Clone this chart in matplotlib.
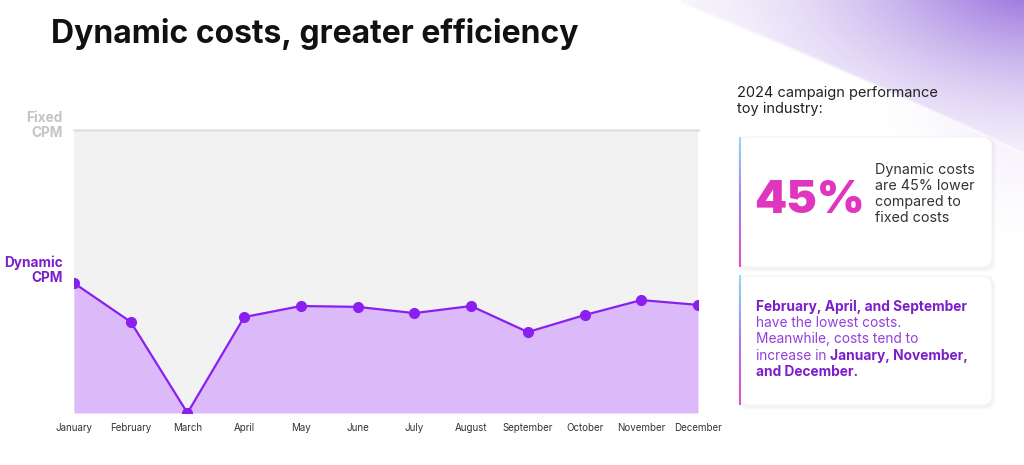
import numpy as np
import matplotlib
matplotlib.use("Agg")
import matplotlib.pyplot as plt
from matplotlib.patches import FancyBboxPatch
from matplotlib.colors import LinearSegmentedColormap

# ---- data ----
months = ["January", "February", "March", "April", "May", "June", "July",
          "August", "September", "October", "November", "December"]
dynamic_cpm = [45.9, 32.2, 0.0, 33.9, 37.8, 37.5, 35.3, 37.8, 28.6, 34.6, 39.9, 38.2]
fixed_cpm = 100
ytick_labels = ["Dynamic\nCPM", "Fixed\nCPM"]
title = "Dynamic costs, greater efficiency"
side_heading = "2024 campaign performance\ntoy industry:"
big_stat = "45%"
stat_text = ["Dynamic costs", "are 45% lower", "compared to", "fixed costs"]

W, H = 1024, 465
fig = plt.figure(figsize=(W / 100, H / 100), dpi=100)
fig.patch.set_facecolor("white")

# background overlay axes (pixel coordinates)
bg = fig.add_axes([0, 0, 1, 1], zorder=0)
bg.set_xlim(0, W)
bg.set_ylim(H, 0)
bg.axis("off")

# purple swoosh top-right
yy, xx = np.mgrid[0:H, 0:W].astype(float)
curve = 5 + (xx - 680) * 0.40 + ((xx - 680) / 330.0) ** 2 * 12
inside = (yy < curve) & (xx > 680)
dist = np.hypot((W + 20 - xx) * 0.8, (yy + 30) * 1.4) / 320.0
alpha = np.clip(1.0 - dist, 0, 1) ** 1.8 * 0.95 + 0.05
alpha = np.where(inside, alpha, 0.0)
edge = np.clip((curve - yy) / 4.0, 0, 1)
alpha = alpha * edge
# faint lavender below the curve near right edge
alpha2 = np.clip(1.0 - np.hypot(W - xx, (yy - 80) * 0.9) / 160.0, 0, 1) ** 1.5 * 0.14
alpha = np.where(inside, alpha, alpha2)
img = np.zeros((H, W, 4))
img[..., 0] = 0.52
img[..., 1] = 0.33
img[..., 2] = 0.84
img[..., 3] = alpha
bg.imshow(img, extent=(0, W, H, 0), zorder=0, interpolation="bilinear")

# cards
def card(x0, y0, x1, y1):
    for i, a in enumerate([0.012, 0.015, 0.02]):
        off = 3 - i
        sh = FancyBboxPatch((x0 - off + 1, y0 - off + 2), (x1 - x0) + 2 * off, (y1 - y0) + 2 * off,
                            boxstyle="round,pad=0,rounding_size=10", fc="black", ec="none",
                            alpha=a, zorder=1)
        bg.add_patch(sh)
    p = FancyBboxPatch((x0, y0), x1 - x0, y1 - y0, boxstyle="round,pad=0,rounding_size=10",
                       fc="white", ec="#f3f3f3", lw=0.6, zorder=2)
    bg.add_patch(p)
    grad = LinearSegmentedColormap.from_list("g", ["#8fdcf7", "#a07ef0", "#e64fc4"])
    gimg = np.linspace(0, 1, 100).reshape(-1, 1)
    bg.imshow(gimg, cmap=grad, extent=(x0, x0 + 2, y1, y0), aspect="auto", zorder=3)

card(739, 137, 992, 267)
card(739, 276, 992, 405)
bg.set_xlim(0, W)
bg.set_ylim(H, 0)

font = "Inter"
bg.text(51, 43, title, fontsize=23, fontweight="bold", family="Inter", color="#111111",
        va="baseline", ha="left", zorder=5)
bg.text(737, 101, side_heading, fontsize=10.5, family=font, color="#222222",
        va="center", ha="left", linespacing=1.2, zorder=5)
bg.text(754, 201, big_stat, fontsize=33, fontweight="black", family="Inter", color="#e035bf",
        va="center", ha="left", zorder=5)
for i, s in enumerate(stat_text):
    bg.text(875, 170 + i * 16, s, fontsize=10.3, family=font, color="#333333",
            va="center", ha="left", zorder=5)

purple_b = "#7d1fc8"
purple_n = "#9440dc"
tfs = 9.9
b0 = 311
ls = 16.2
bg.text(756, b0, "February, April, and September", fontsize=tfs, fontweight="bold",
        family=font, color=purple_b, va="baseline", ha="left", zorder=5)
bg.text(756, b0 + ls, "have the lowest costs.", fontsize=tfs, family=font, color=purple_n,
        va="baseline", ha="left", zorder=5)
bg.text(756, b0 + 2 * ls, "Meanwhile, costs tend to", fontsize=tfs, family=font, color=purple_n,
        va="baseline", ha="left", zorder=5)
t4 = bg.text(756, b0 + 3 * ls, "increase in ", fontsize=tfs, family=font, color=purple_n,
             va="baseline", ha="left", zorder=5)
bg.annotate("January, November,", xy=(1, 0), xycoords=t4, fontsize=tfs, fontweight="bold",
            family=font, color=purple_b, va="bottom", ha="left", zorder=5)
bg.text(756, b0 + 4 * ls, "and December.", fontsize=tfs, fontweight="bold", family=font,
        color=purple_b, va="baseline", ha="left", zorder=5)

# ---- main chart ----
left, right, top, bottom = 74, 698, 130, 413
ax = fig.add_axes([left / W, 1 - bottom / H, (right - left) / W, (bottom - top) / H], zorder=4)
ax.set_facecolor("#f2f2f2")
x = np.arange(len(months))
ax.fill_between(x, 0, dynamic_cpm, color="#dcbafa", lw=0, zorder=2)
ax.plot(x, dynamic_cpm, color="#8a1ff0", lw=1.6, marker="o", ms=7, mfc="#8a1ff0",
        mec="#8a1ff0", zorder=3)
ax.axhline(fixed_cpm, color="#e2e2e2", lw=2, zorder=4, clip_on=False)
ax.set_xlim(0, len(months) - 1)
ax.set_ylim(0, fixed_cpm)
for s in ax.spines.values():
    s.set_visible(False)
ax.set_xticks(x)
ax.set_xticklabels(months, fontsize=7, family=font, color="#333333")
ax.tick_params(axis="x", length=0, pad=7)
ax.set_yticks([])

ax.text(-0.018, 101.5, ytick_labels[1], transform=ax.get_yaxis_transform(), ha="right",
        va="center", fontsize=9.8, fontweight="bold", family=font, color="#c4c4c4",
        linespacing=1.05)
ax.text(-0.018, 50.5, ytick_labels[0], transform=ax.get_yaxis_transform(), ha="right",
        va="center", fontsize=9.8, fontweight="bold", family=font, color=purple_b,
        linespacing=1.05)

fig.savefig("out.png", dpi=100)
